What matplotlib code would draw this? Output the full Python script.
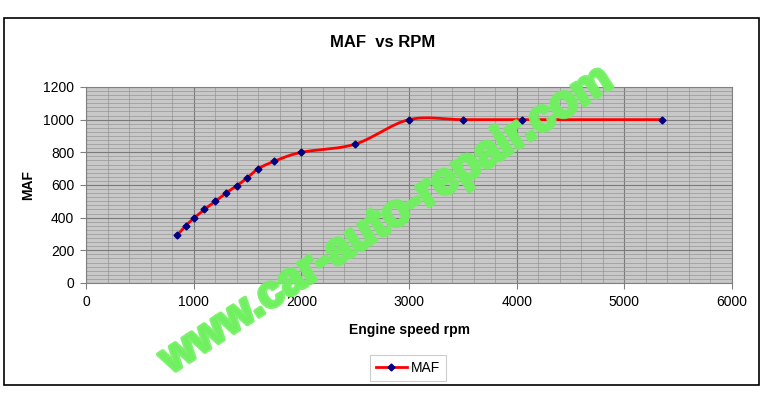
import numpy as np
import matplotlib.pyplot as plt
import matplotlib.patheffects as pe
from matplotlib.patches import Rectangle
from matplotlib.ticker import MultipleLocator

plt.rcParams['font.family'] = ['Liberation Sans', 'DejaVu Sans']

# values
rpm = [850, 925, 1000, 1100, 1200, 1300, 1400, 1500, 1600, 1750,
       2000, 2500, 3000, 3500, 4050, 5350]
maf = [295, 350, 395, 450, 500, 550, 595, 645, 700, 745,
       800, 850, 1000, 1000, 1000, 1000]
x_ticks = [0, 1000, 2000, 3000, 4000, 5000, 6000]
y_ticks = [0, 200, 400, 600, 800, 1000, 1200]


def smooth(xs, ys, n=30):
    # Excel style smoothed line: bezier through points, catmull-rom controls
    p = np.column_stack([xs, ys]).astype(float)
    p = np.vstack([p[:1], p, p[-1:]])
    out = []
    t = np.linspace(0, 1, n)[:, None]
    for i in range(1, len(p) - 2):
        p0, p1, p2, p3 = p[i - 1], p[i], p[i + 1], p[i + 2]
        c1 = p1 + (p2 - p0) / 6
        c2 = p2 - (p3 - p1) / 6
        seg = ((1 - t) ** 3) * p1 + 3 * ((1 - t) ** 2) * t * c1 \
            + 3 * (1 - t) * t ** 2 * c2 + t ** 3 * p2
        out.append(seg)
    out = np.vstack(out)
    return out[:, 0], out[:, 1]


fig = plt.figure(figsize=(7.69, 3.97), dpi=100)
fig.patches.append(Rectangle((0.0052, 0.030), 0.9818, 0.9247, transform=fig.transFigure,
                             fill=False, edgecolor='black', linewidth=1.2))

ax = fig.add_axes([0.1118, 0.2872, 0.8401, 0.4937])
ax.set_facecolor('#c8c8c8')

sx, sy = smooth(rpm, maf)
ax.plot(sx, sy, color='#ff0000', linewidth=2, zorder=3)
ax.plot(rpm, maf, linestyle='none', marker='D', markersize=3.5,
        color='#000080', zorder=4)
ax.plot([], [], color='#ff0000', linewidth=2, marker='D', markersize=3.5,
        markerfacecolor='#000080', markeredgecolor='#000080', label='MAF')

ax.set_xlim(0, 6000)
ax.set_ylim(0, 1200)
ax.set_xticks(x_ticks)
ax.set_yticks(y_ticks)
ax.xaxis.set_minor_locator(MultipleLocator(200))
ax.yaxis.set_minor_locator(MultipleLocator(25))
ax.grid(which='major', color='#7a7a7a', linewidth=0.8)
ax.grid(which='minor', color='#969696', linewidth=0.5)
ax.set_axisbelow(True)
ax.tick_params(which='minor', length=0)
ax.tick_params(which='major', length=4.5, width=0.8, color='#808080',
               labelsize=10, pad=4)
for side in ['top', 'right', 'left', 'bottom']:
    ax.spines[side].set_color('#808080')

fig.text(0.497, 0.894, 'MAF  vs RPM', ha='center', va='center',
         fontsize=12, fontweight='bold')
fig.text(0.533, 0.169, 'Engine speed rpm', ha='center', va='center',
         fontsize=10, fontweight='bold')
fig.text(0.0364, 0.534, 'MAF', ha='center', va='center', rotation=90,
         fontsize=10, fontweight='bold')

leg = fig.legend(loc='center', bbox_to_anchor=(0.5306, 0.073), fontsize=10,
                 frameon=True, fancybox=False, handlelength=2.2,
                 borderpad=0.4, handletextpad=0.3)
leg.get_frame().set_edgecolor('#c0c0c0')
leg.get_frame().set_linewidth(0.8)

# watermark
wm = fig.text(0.503, 0.446, 'www.car-auto-repair.com', ha='center', va='center',
              rotation=33, fontsize=32, fontweight='bold', color='#70f060',
              alpha=0.9, zorder=10)
wm.set_path_effects([pe.Stroke(linewidth=3, foreground='#70f060'), pe.Normal()])

fig.savefig('out.png', dpi=100)
